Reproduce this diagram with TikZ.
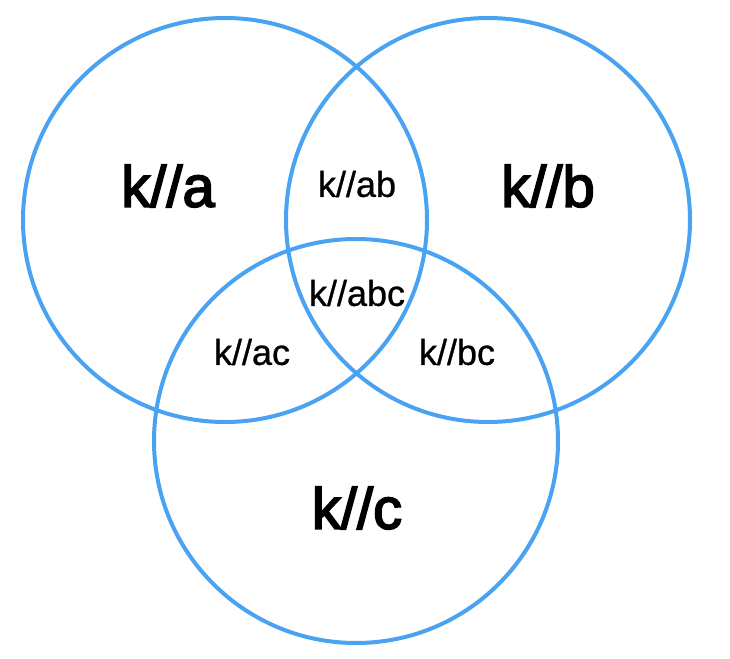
\documentclass[tikz,border=0pt]{standalone}
\usepackage{fontspec}
\setmainfont{Liberation Sans}
\newfontfamily\medfont[FakeBold=3]{Liberation Sans}
\newfontfamily\smfont[FakeBold=0.8]{Liberation Sans}
\definecolor{vennblue}{RGB}{74,163,242}
\tikzset{
  venn/.style={draw=vennblue, line width=4pt},
  biglabel/.style={font=\medfont\fontsize{58}{60}\selectfont, inner sep=0pt},
  smalllabel/.style={font=\smfont\fontsize{36}{38}\selectfont, inner sep=0pt}
}
\begin{document}
\begin{tikzpicture}[x=1pt,y=-1pt]
\useasboundingbox (0,0) rectangle (730,658);
\fill[white] (0,0) rectangle (730,658);
\coordinate (ca) at (225,220);
\coordinate (cb) at (488,220);
\coordinate (cc) at (356,441);
\draw[venn] (ca) circle[radius=202pt];
\draw[venn] (cb) circle[radius=202pt];
\draw[venn] (cc) circle[radius=202pt];
\node[biglabel] (la) at (168,186) {k//a};
\node[biglabel] (lb) at (548,186) {k//b};
\node[biglabel] (lc) at (357,508) {k//c};
\node[smalllabel] (lab) at (357,184) {k//ab};
\node[smalllabel] (labc) at (357,293) {k//abc};
\node[smalllabel] (lac) at (252,352) {k//ac};
\node[smalllabel] (lbc) at (457,352) {k//bc};
\end{tikzpicture}
\end{document}
